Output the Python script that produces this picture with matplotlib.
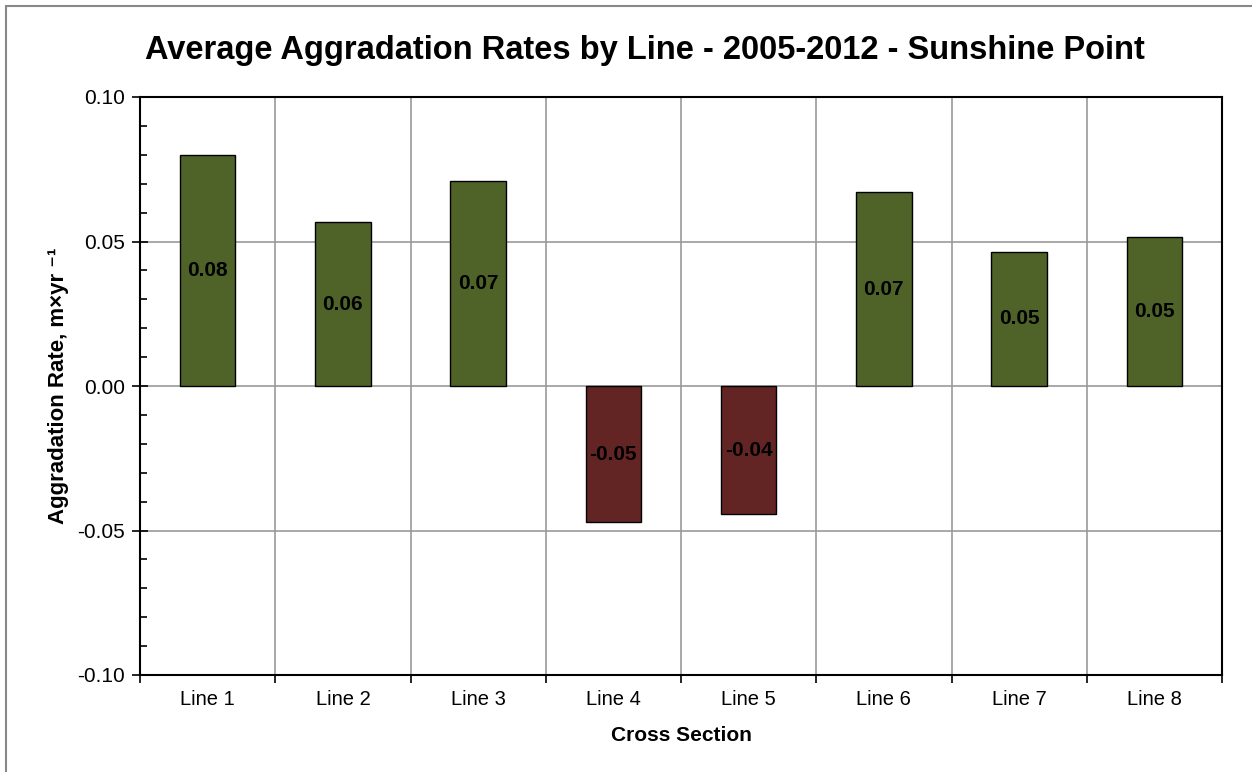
import matplotlib
matplotlib.use("Agg")
import matplotlib.pyplot as plt
from matplotlib.patches import Rectangle
import numpy as np

categories = ["Line 1", "Line 2", "Line 3", "Line 4", "Line 5", "Line 6", "Line 7", "Line 8"]
values = [0.080, 0.0566, 0.0708, -0.0472, -0.0444, 0.067, 0.0465, 0.0514]
labels = ["0.08", "0.06", "0.07", "-0.05", "-0.04", "0.07", "0.05", "0.05"]

plt.rcParams['font.family'] = ['Liberation Sans', 'DejaVu Sans']

W, H = 1252, 772
fig = plt.figure(figsize=(W/100, H/100), dpi=100)
fig.patches.append(Rectangle((6/W, -0.2), 2, 1.2 - 6/H, transform=fig.transFigure,
                             fill=False, edgecolor='#888888', linewidth=1.5, clip_on=False))
ax = fig.add_axes([140/W, 1-675/H, (1222-140)/W, (675-97)/H])

x = np.arange(len(categories))
colors = ['#4F6228' if v >= 0 else '#632523' for v in values]
ax.bar(x, values, width=0.41, color=colors, edgecolor='black', linewidth=1.0, zorder=3)
for xi, v, lab in zip(x, values, labels):
    ax.text(xi, v/2, lab, ha='center', va='center', fontsize=15, fontweight='bold', zorder=4)

ax.set_xlim(-0.5, len(categories)-0.5)
ax.set_ylim(-0.10, 0.10)
ax.set_yticks([-0.10, -0.05, 0.0, 0.05, 0.10])
ax.set_yticklabels(["-0.10", "-0.05", "0.00", "0.05", "0.10"])
ax.set_yticks(np.arange(-0.10, 0.1001, 0.01), minor=True)
ax.tick_params(axis='y', which='major', direction='inout', length=12, width=1.2, labelsize=15, pad=5)
ax.tick_params(axis='y', which='minor', direction='in', length=5, width=1.2)

ax.set_xticks(np.arange(-0.5, len(categories), 1.0))
ax.set_xticklabels([])
ax.set_xticks(x, minor=True)
ax.set_xticklabels(categories, minor=True)
ax.tick_params(axis='x', which='major', direction='out', length=6, width=1.2)
ax.tick_params(axis='x', which='minor', length=0, labelsize=14.5, pad=11)

ax.grid(True, which='major', axis='both', color='#999999', linewidth=1.2, zorder=0)
ax.set_axisbelow(True)
for s in ax.spines.values():
    s.set_linewidth(1.5)
    s.set_color('black')

ax.set_xlabel("Cross Section", fontsize=15, fontweight='bold', labelpad=12)
ax.set_ylabel("Aggradation Rate, m×yr ⁻¹", fontsize=16, fontweight='bold', labelpad=6)
fig.text(645/W, 1-50/H, "Average Aggradation Rates by Line - 2005-2012 - Sunshine Point",
         ha='center', va='center', fontsize=23.5, fontweight='bold')

fig.savefig("out.png", dpi=100)
